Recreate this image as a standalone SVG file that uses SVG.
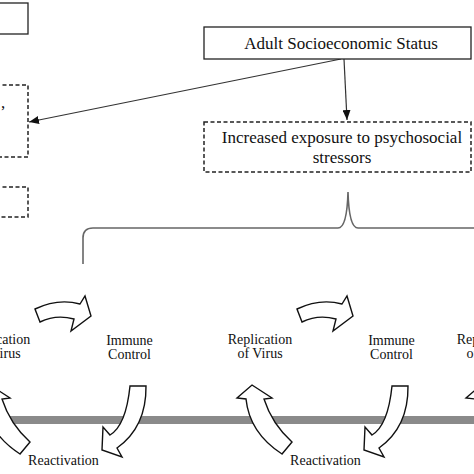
<svg xmlns="http://www.w3.org/2000/svg" width="474" height="474" viewBox="0 0 474 474">
<style>
  .t { font-family: "Liberation Serif", "Times New Roman", serif; fill: #111; text-anchor: middle; }
  .big { font-size: 17px; }
  .sm { font-size: 14px; }
  .solid { fill: #fff; stroke: #222; stroke-width: 1.3; }
  .dash { fill: #fff; stroke: #222; stroke-width: 1.5; stroke-dasharray: 4 2.5; }
  .blk { fill: #fff; stroke: #111; stroke-width: 1.4; stroke-linejoin: miter; }
  .conn { fill: none; stroke: #333; stroke-width: 1.2; }
</style>
<defs>
  <marker id="ah" viewBox="0 0 10 8" refX="10" refY="4" markerWidth="10" markerHeight="8" markerUnits="userSpaceOnUse" orient="auto">
    <path d="M0,0 L10,4 L0,8 Z" fill="#111"/>
  </marker>
  <path id="arrTop" d="M297,309 Q320,298 342,304 L347,296 L353,316 L333,331 L336,319 Q318,314 302,322 Z"/>
  <path id="arrDown" d="M392,386 L408,386 Q408.5,427 379,448 L384,457 L364,450 L365,427 L372,435 Q388,425.5 392,386 Z"/>
  <path id="arrUp" d="M252,385 L272,398 L264,399 Q272,424 292,442 L282,454 Q249.5,433 246,399 L237,398 Z"/>
</defs>
<rect x="0" y="0" width="474" height="474" fill="#fff"/>

<!-- timeline bar -->
<rect id="bar" x="-2" y="416" width="478" height="8" fill="#8a8a8a"/>

<g id="connectors">
  <line class="conn" x1="341" y1="59" x2="29" y2="122" marker-end="url(#ah)"/>
  <line class="conn" x1="344" y1="59" x2="347" y2="120" marker-end="url(#ah)"/>
  <path id="brace" d="M83,264 L83,238 Q83,228 93,228 L338,228 Q347,228 348,192 Q349,228 358,228 L480,228" fill="none" stroke="#666" stroke-width="1.6"/>
</g>

<g id="box-topleft">
  <rect class="solid" x="-2" y="3" width="30" height="31"/>
</g>

<g id="box-ses">
  <rect class="solid" x="204" y="27" width="267" height="32"/>
  <text class="t big" x="341" y="49">Adult Socioeconomic Status</text>
</g>

<g id="box-stressors">
  <rect class="dash" x="204" y="122" width="267" height="50"/>
  <text class="t big" x="342" y="143">Increased exposure to psychosocial</text>
  <text class="t big" x="342" y="163">stressors</text>
</g>

<g id="box-left-a">
  <rect class="dash" x="-4" y="85" width="32" height="72"/>
  <text class="t big" x="3" y="108">,</text>
</g>

<g id="box-left-b">
  <rect class="dash" x="-4" y="187" width="32" height="30"/>
</g>

<g id="cycle-1" transform="translate(-262,0)">
  <use href="#arrTop" class="blk"/>
  <use href="#arrDown" class="blk"/>
  <use href="#arrUp" class="blk"/>
  <text class="t sm" x="260" y="344">Replication</text>
  <text class="t sm" x="260" y="358">of Virus</text>
  <text class="t sm" x="391.5" y="345">Immune</text>
  <text class="t sm" x="391.5" y="359">Control</text>
  <text class="t sm" x="325.5" y="465">Reactivation</text>
</g>

<g id="cycle-2">
  <use href="#arrTop" class="blk"/>
  <use href="#arrDown" class="blk"/>
  <use href="#arrUp" class="blk"/>
  <text class="t sm" x="260" y="344">Replication</text>
  <text class="t sm" x="260" y="358">of Virus</text>
  <text class="t sm" x="391.5" y="345">Immune</text>
  <text class="t sm" x="391.5" y="359">Control</text>
  <text class="t sm" x="325.5" y="465">Reactivation</text>
</g>

<g id="cycle-3" transform="translate(229,0)">
  <use href="#arrUp" class="blk"/>
  <text class="t sm" x="260" y="344">Replication</text>
  <text class="t sm" x="260" y="358">of Virus</text>
</g>
</svg>
